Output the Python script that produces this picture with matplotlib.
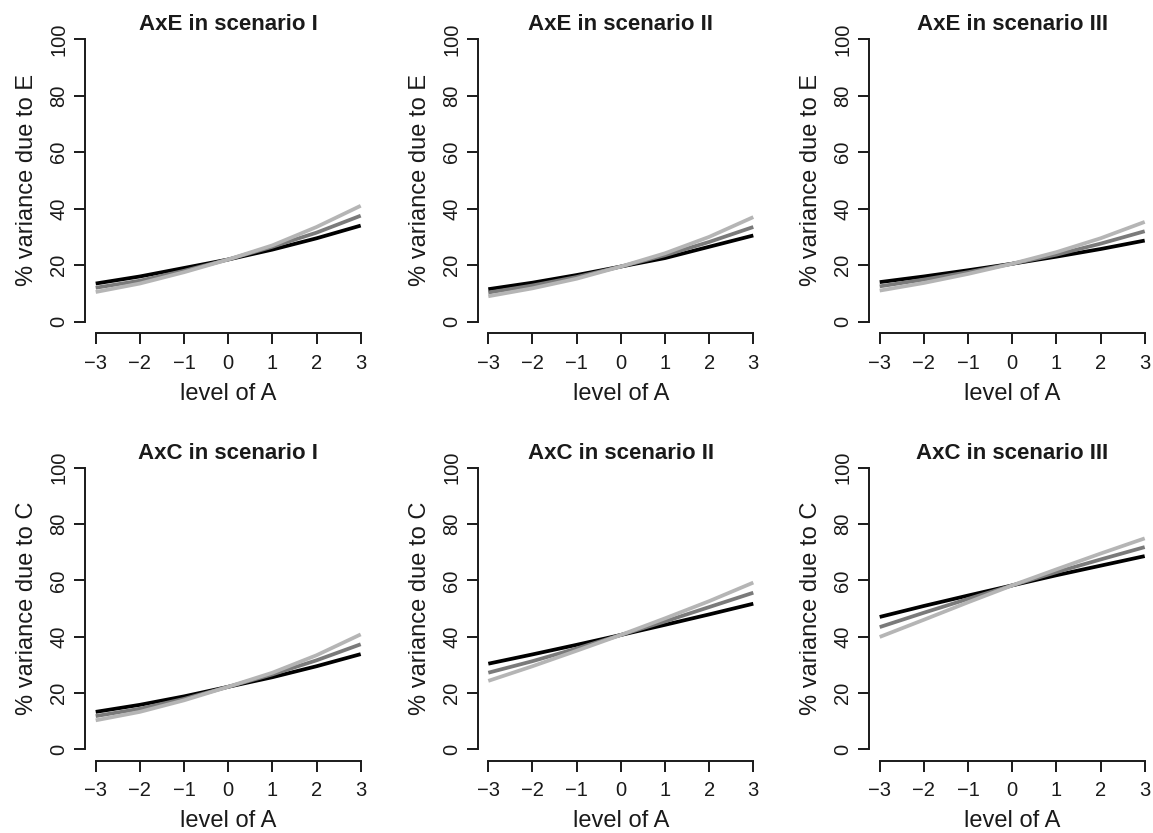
import matplotlib
matplotlib.use("Agg")
import matplotlib.pyplot as plt
import numpy as np

plt.rcParams['font.family'] = ['Liberation Sans', 'DejaVu Sans']

# ---- data ----
level_A = [-3, -2, -1, 0, 1, 2, 3]
titles = ["AxE in scenario I", "AxE in scenario II", "AxE in scenario III",
          "AxC in scenario I", "AxC in scenario II", "AxC in scenario III"]
ylabels = ["% variance due to E"] * 3 + ["% variance due to C"] * 3

axe1_black = [13.5, 16.0, 19.0, 22.0, 25.5, 29.5, 34.0]
axe1_dark = [12.0, 14.5, 18.0, 22.0, 26.5, 31.5, 37.5]
axe1_light = [10.5, 13.5, 17.5, 22.0, 27.0, 33.5, 41.0]

axe2_black = [11.5, 13.8, 16.5, 19.5, 22.5, 26.5, 30.5]
axe2_dark = [10.3, 12.8, 15.8, 19.5, 23.5, 28.2, 33.5]
axe2_light = [9.0, 11.8, 15.2, 19.5, 24.2, 30.0, 37.0]

axe3_black = [14.0, 16.0, 18.2, 20.5, 23.0, 25.7, 28.7]
axe3_dark = [12.5, 14.9, 17.5, 20.5, 23.7, 27.6, 32.0]
axe3_light = [11.0, 13.7, 16.9, 20.5, 24.6, 29.5, 35.3]

axc1_black = [13.3, 15.8, 18.8, 22.2, 25.6, 29.5, 33.8]
axc1_dark = [11.8, 14.4, 17.9, 22.2, 26.6, 31.6, 37.3]
axc1_light = [10.3, 13.3, 17.4, 22.2, 27.2, 33.4, 40.8]

axc2_black = [30.4, 33.7, 37.1, 40.6, 44.2, 47.9, 51.7]
axc2_dark = [27.2, 31.3, 35.8, 40.6, 45.4, 50.5, 55.6]
axc2_light = [24.3, 29.5, 35.0, 40.6, 46.5, 52.6, 59.2]

axc3_black = [47.0, 50.9, 54.6, 58.2, 61.8, 65.2, 68.6]
axc3_dark = [43.4, 48.5, 53.4, 58.2, 62.9, 67.4, 71.8]
axc3_light = [39.9, 46.0, 52.2, 58.2, 63.9, 69.5, 74.9]

panels = [
    (axe1_black, axe1_dark, axe1_light),
    (axe2_black, axe2_dark, axe2_light),
    (axe3_black, axe3_dark, axe3_light),
    (axc1_black, axc1_dark, axc1_light),
    (axc2_black, axc2_dark, axc2_light),
    (axc3_black, axc3_dark, axc3_light),
]
line_colors = ["#000000", "#7a7a7a", "#b5b5b5"]
x_ticks = [-3, -2, -1, 0, 1, 2, 3]
y_ticks = [0, 20, 40, 60, 80, 100]

# ---- layout (pixels) ----
W, H = 1153, 833
fig = plt.figure(figsize=(W / 100, H / 100), dpi=100)

col_left = [85.1, 477.7, 869.1]
ax_w = 286.2
row_top = [27.7, 456.4]
row_bot = [333.0, 760.6]


def fx(px):
    return px / W


def fy(py):
    return 1 - py / H


for i, (series, title, ylab) in enumerate(zip(panels, titles, ylabels)):
    r, c = divmod(i, 3)
    left = col_left[c]
    top = row_top[r]
    bot = row_bot[r]
    ax = fig.add_axes([fx(left), fy(bot), ax_w / W, (bot - top) / H])
    for vals, col in zip(series, line_colors):
        ax.plot(level_A, vals, color=col, lw=2.7, solid_capstyle='butt',
                solid_joinstyle='round')
    ax.set_xlim(-3.24, 3.24)
    ax.set_ylim(-4, 104)
    for s in ['top', 'right']:
        ax.spines[s].set_visible(False)
    ax.spines['left'].set_bounds(0, 100)
    ax.spines['bottom'].set_bounds(-3, 3)
    for s in ['left', 'bottom']:
        ax.spines[s].set_linewidth(1.4)
        ax.spines[s].set_color('#1a1a1a')
    ax.set_xticks(x_ticks)
    ax.set_xticklabels([str(t).replace('-', '\u2212') for t in x_ticks])
    ax.set_yticks(y_ticks)
    ax.tick_params(axis='both', direction='out', length=8, width=1.4,
                   color='#1a1a1a', labelsize=14.5, labelcolor='#1a1a1a')
    ax.tick_params(axis='x', pad=7)
    ax.tick_params(axis='y', pad=4, labelrotation=90)
    for lab in ax.get_yticklabels():
        lab.set_va('center')
    ax.patch.set_alpha(0)

    cx = left + ax_w / 2
    fig.text(fx(cx), fy(top + 2.5), title, ha='center', va='baseline',
             fontsize=16, fontweight='bold', color='#1a1a1a')
    fig.text(fx(cx), fy(bot + 66.5), "level of A", ha='center', va='baseline',
             fontsize=17, color='#1a1a1a')
    fig.text(fx(left - 52), fy((top + bot) / 2), ylab, ha='center', va='baseline',
             rotation=90, rotation_mode='anchor', fontsize=17, color='#1a1a1a')

fig.savefig("out.png", dpi=100)
